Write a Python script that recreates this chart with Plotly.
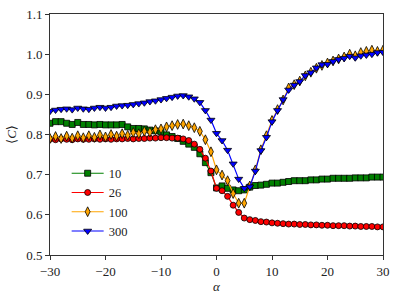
import plotly.graph_objects as go

alpha = list(range(-30, 31))

c10 = [0.828, 0.832, 0.832, 0.828, 0.825, 0.830, 0.825, 0.825, 0.824, 0.825,
       0.824, 0.824, 0.824, 0.825, 0.819, 0.815, 0.815, 0.814, 0.811, 0.809,
       0.807, 0.799, 0.795, 0.790, 0.783, 0.776, 0.768, 0.752, 0.730, 0.705,
       0.667, 0.672, 0.666, 0.662, 0.660, 0.662, 0.669, 0.673, 0.674, 0.676,
       0.679, 0.679, 0.681, 0.683, 0.685, 0.685, 0.685, 0.687, 0.687, 0.689,
       0.689, 0.691, 0.691, 0.691, 0.691, 0.692, 0.692, 0.692, 0.694, 0.694,
       0.694]

c26 = [0.788, 0.787, 0.789, 0.788, 0.787, 0.789, 0.788, 0.788, 0.789, 0.788,
       0.789, 0.788, 0.789, 0.789, 0.790, 0.789, 0.790, 0.790, 0.791, 0.791,
       0.792, 0.792, 0.791, 0.791, 0.789, 0.785, 0.776, 0.763, 0.741, 0.709,
       0.666, 0.660, 0.646, 0.624, 0.606, 0.592, 0.588, 0.586, 0.583, 0.582,
       0.580, 0.579, 0.578, 0.577, 0.577, 0.576, 0.576, 0.575, 0.575, 0.574,
       0.574, 0.573, 0.573, 0.573, 0.572, 0.572, 0.571, 0.571, 0.571, 0.570,
       0.570]

c100 = [0.790, 0.795, 0.790, 0.796, 0.791, 0.797, 0.792, 0.797, 0.793, 0.799,
        0.794, 0.800, 0.796, 0.802, 0.798, 0.805, 0.802, 0.808, 0.806, 0.812,
        0.814, 0.819, 0.822, 0.825, 0.826, 0.822, 0.817, 0.808, 0.787, 0.757,
        0.712, 0.699, 0.685, 0.653, 0.629, 0.629, 0.672, 0.712, 0.762, 0.797,
        0.835, 0.862, 0.886, 0.916, 0.924, 0.933, 0.946, 0.955, 0.965, 0.972,
        0.978, 0.983, 0.988, 0.993, 1.000, 0.996, 1.004, 1.007, 1.010, 1.007,
        1.010]

c300 = [0.858, 0.861, 0.863, 0.864, 0.862, 0.866, 0.864, 0.863, 0.866, 0.868,
        0.866, 0.868, 0.871, 0.872, 0.873, 0.875, 0.877, 0.879, 0.882, 0.884,
        0.887, 0.890, 0.893, 0.896, 0.897, 0.894, 0.889, 0.880, 0.860, 0.836,
        0.803, 0.785, 0.761, 0.727, 0.689, 0.666, 0.670, 0.709, 0.760, 0.793,
        0.832, 0.860, 0.887, 0.911, 0.923, 0.932, 0.947, 0.954, 0.966, 0.974,
        0.975, 0.982, 0.987, 0.990, 0.995, 0.991, 0.996, 0.998, 1.000, 1.004,
        1.005]

labels = ["10", "26", "100", "300"]
series = [c10, c26, c100, c300]
colors = ["#008000", "#ff0000", "#ffa500", "#0000ff"]
symbols = ["square", "circle", "diamond-tall", "triangle-down"]
sizes = [6, 6, 7, 7]

FONT = "'Liberation Serif', 'DejaVu Serif', serif"

fig = go.Figure()
for lab, ys, col, sym, sz in zip(labels, series, colors, symbols, sizes):
    fig.add_trace(go.Scatter(
        x=alpha, y=ys, name=lab, mode="lines+markers",
        line=dict(color=col, width=1.2),
        marker=dict(symbol=sym, size=sz, color=col,
                    line=dict(color="black", width=0.8)),
    ))

axis_common = dict(
    showgrid=False, zeroline=False, showline=True, linecolor="#333333",
    linewidth=1, mirror=True, ticks="outside", ticklen=4, tickwidth=1,
    tickcolor="#333333", tickfont=dict(family=FONT, size=13, color="#222222"),
    automargin=False,
)

fig.update_layout(
    width=399, height=299,
    margin=dict(l=50, r=16, t=14, b=44),
    paper_bgcolor="white", plot_bgcolor="white",
    font=dict(family=FONT, color="#222222"),
    xaxis=dict(range=[-30, 30], tickvals=[-30, -20, -10, 0, 10, 20, 30],
               title=dict(text="<i>α</i>", font=dict(family=FONT, size=13), standoff=4),
               **axis_common),
    yaxis=dict(range=[0.5, 1.1], tickvals=[0.5, 0.6, 0.7, 0.8, 0.9, 1.0, 1.1],
               tickformat=".1f",
               title=dict(text="⟨<i>C</i>⟩", font=dict(family=FONT, size=13), standoff=6),
               **axis_common),
    legend=dict(x=0.05, y=0.40, xanchor="left", yanchor="top",
                bgcolor="rgba(255,255,255,0)", borderwidth=0,
                font=dict(family=FONT, size=12.5, color="#222222"),
                itemwidth=32, tracegroupgap=0),
    showlegend=True,
)

fig.write_html("out.html", config={"displayModeBar": False},
               post_script="document.body.style.margin='0';document.body.style.overflow='hidden';")
